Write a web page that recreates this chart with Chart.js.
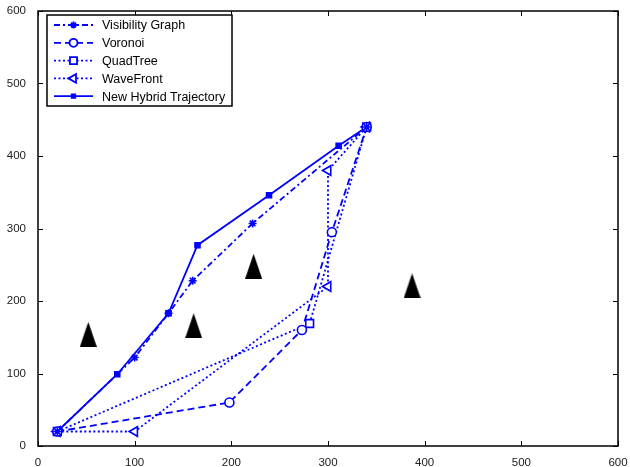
<!DOCTYPE html>
<html>
<head>
<meta charset="utf-8">
<script src="https://cdn.jsdelivr.net/npm/chart.js@4.4.0/dist/chart.umd.min.js"></script>
<style>
  html, body { margin: 0; padding: 0; background: #fff; }
  #wrap { width: 630px; height: 467px; }
</style>
</head>
<body>
<div id="wrap"><canvas id="chart" width="630" height="467"></canvas></div>
<script>
// Axis ticks
const xTicks = [0, 100, 200, 300, 400, 500, 600];
const yTicks = [0, 100, 200, 300, 400, 500, 600];

// Series (x, y)
const visX = [20, 100, 135, 160, 222, 340];
const visY = [20, 122, 183, 228, 307, 440];
const vorX = [20, 198, 273, 304, 340];
const vorY = [20, 60, 160, 295, 440];
const quadX = [20, 281, 340];
const quadY = [20, 169, 440];
const waveX = [20, 100, 300, 300, 340];
const waveY = [20, 20, 220, 380, 440];
const hybX = [20, 82, 135, 165, 239, 311, 340];
const hybY = [20, 99, 183, 277, 346, 414, 440];

// Obstacles (black triangles)
const obsX = [52, 161, 223, 387];
const obsY = [154, 166, 248, 221];

const seriesNames = ['Visibility Graph', 'Voronoi', 'QuadTree', 'WaveFront', 'New Hybrid Trajectory'];

const BLUE = '#0000ff';

function pts(xs, ys) {
    return xs.map((x, i) => ({ x: x, y: ys[i] }));
}

// tall black triangle marker
function makeObstacle() {
    const c = document.createElement('canvas');
    c.width = 17; c.height = 25;
    const g = c.getContext('2d');
    g.fillStyle = '#000';
    g.beginPath();
    g.moveTo(8.5, 0);
    g.lineTo(17, 25);
    g.lineTo(0, 25);
    g.closePath();
    g.fill();
    return c;
}

const styles = [
    { dash: [6, 3, 2, 3], point: 'star', radius: 4, fill: BLUE, rot: 0 },
    { dash: [7, 4], point: 'circle', radius: 4.5, fill: '#fff', rot: 0 },
    { dash: [2, 2.5], point: 'rect', radius: 5.5, fill: '#fff', rot: 0 },
    { dash: [2, 2.5], point: 'triangle', radius: 5.5, fill: '#fff', rot: -90 },
    { dash: [], point: 'rect', radius: 3.5, fill: BLUE, rot: 0 }
];

const seriesData = [pts(visX, visY), pts(vorX, vorY), pts(quadX, quadY), pts(waveX, waveY), pts(hybX, hybY)];

const datasets = seriesData.map((d, i) => ({
    label: seriesNames[i],
    data: d,
    showLine: true,
    borderColor: BLUE,
    borderWidth: 1.8,
    borderDash: styles[i].dash,
    pointStyle: styles[i].point,
    pointRadius: styles[i].radius,
    pointRotation: styles[i].rot,
    pointBorderColor: BLUE,
    pointBorderWidth: 1.6,
    pointBackgroundColor: styles[i].fill,
    fill: false,
    tension: 0
}));

datasets.push({
    label: 'obstacles',
    data: pts(obsX, obsY),
    showLine: false,
    pointStyle: makeObstacle(),
    pointRadius: 10
});

// Frame with inward ticks (MATLAB style)
const framePlugin = {
    id: 'frame',
    afterDatasetsDraw(chart) {
        const { ctx, chartArea: a, scales } = chart;
        ctx.save();
        ctx.strokeStyle = '#000';
        ctx.lineWidth = 1;
        ctx.beginPath();
        xTicks.forEach(v => {
            const px = Math.round(scales.x.getPixelForValue(v)) + 0.5;
            ctx.moveTo(px, a.bottom); ctx.lineTo(px, a.bottom - 5);
            ctx.moveTo(px, a.top); ctx.lineTo(px, a.top + 5);
        });
        yTicks.forEach(v => {
            const py = Math.round(scales.y.getPixelForValue(v)) + 0.5;
            ctx.moveTo(a.left, py); ctx.lineTo(a.left + 5, py);
            ctx.moveTo(a.right, py); ctx.lineTo(a.right - 5, py);
        });
        ctx.stroke();
        ctx.lineWidth = 1.5;
        ctx.strokeRect(a.left, a.top, a.right - a.left, a.bottom - a.top);
        ctx.restore();
    }
};

// Legend box drawn by hand so each entry shows line style + marker
const legendPlugin = {
    id: 'mlegend',
    afterDraw(chart) {
        const ctx = chart.ctx;
        const bx = 47, by = 15, bw = 185, bh = 91;
        ctx.save();
        ctx.fillStyle = '#fff';
        ctx.fillRect(bx, by, bw, bh);
        ctx.strokeStyle = '#000';
        ctx.lineWidth = 1.5;
        ctx.strokeRect(bx, by, bw, bh);
        ctx.font = '12.5px "Liberation Sans", Arial, sans-serif';
        ctx.textBaseline = 'middle';
        seriesNames.forEach((name, i) => {
            const y = by + 10 + i * 17.8;
            ctx.strokeStyle = BLUE;
            ctx.lineWidth = 1.8;
            ctx.setLineDash(styles[i].dash);
            ctx.beginPath();
            ctx.moveTo(54, y);
            ctx.lineTo(93, y);
            ctx.stroke();
            ctx.setLineDash([]);
            ctx.fillStyle = styles[i].fill;
            Chart.helpers.drawPoint(ctx, {
                pointStyle: styles[i].point,
                radius: i === 4 ? 2.5 : styles[i].radius - 0.5,
                rotation: styles[i].rot,
                borderWidth: 1.6
            }, 73.5, y);
            ctx.fillStyle = '#000';
            ctx.fillText(name, 102, y + 1);
        });
        ctx.restore();
    }
};

new Chart(document.getElementById('chart'), {
    type: 'scatter',
    data: { datasets: datasets },
    options: {
        responsive: false,
        animation: false,
        layout: { padding: { top: 10, right: 12, left: 0, bottom: 0 } },
        plugins: {
            legend: { display: false },
            tooltip: { enabled: false }
        },
        scales: {
            x: {
                type: 'linear',
                min: 0,
                max: 600,
                afterBuildTicks: s => { s.ticks = xTicks.map(v => ({ value: v })); },
                afterFit: s => { s.height = 21; },
                grid: { display: false },
                border: { display: false },
                ticks: {
                    padding: 2,
                    color: '#222',
                    font: { family: '"Liberation Sans", Arial, sans-serif', size: 11.5 }
                }
            },
            y: {
                type: 'linear',
                min: 0,
                max: 600,
                afterBuildTicks: s => { s.ticks = yTicks.map(v => ({ value: v })); },
                afterFit: s => { s.width = 38; },
                grid: { display: false },
                border: { display: false },
                ticks: {
                    padding: 4,
                    color: '#222',
                    font: { family: '"Liberation Sans", Arial, sans-serif', size: 11.5 }
                }
            }
        }
    },
    plugins: [framePlugin, legendPlugin]
});
</script>
</body>
</html>
